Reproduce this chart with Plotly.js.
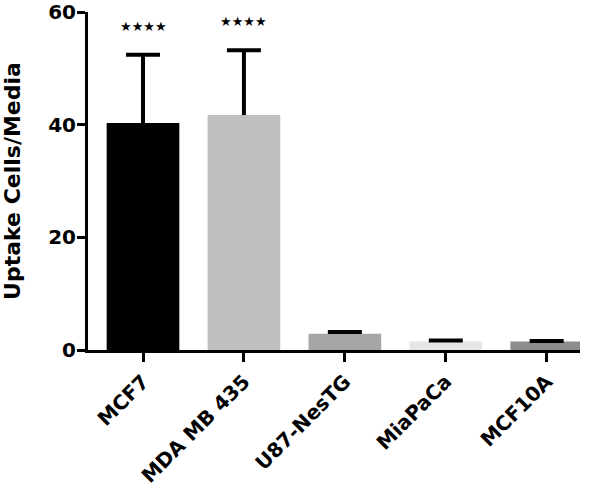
<!DOCTYPE html>
<html>
<head>
<meta charset="utf-8">
<script src="https://cdn.plot.ly/plotly-3.0.1.min.js"></script>
<style>html,body{margin:0;padding:0;background:#fff;}#chart{width:600px;height:488px;}</style>
</head>
<body>
<div id="chart"></div>
<script>
const categories = ["MCF7", "MDA MB 435", "U87-NesTG", "MiaPaCa", "MCF10A"];
const uptake = [40.3, 41.7, 2.9, 1.5, 1.5];
const errorUp = [12.1, 11.5, 0.3, 0.2, 0.1];
const barColors = ["#000000", "#bfbfbf", "#a6a6a6", "#e6e6e6", "#8c8c8c"];
const significance = ["★★★★", "★★★★", "", "", ""];
const yTicks = [0, 20, 40, 60];

const font = {family: "DejaVu Sans, Liberation Sans, Arial, sans-serif", color: "#000"};
const errTop = uptake.map((v, i) => v + errorUp[i]);

const bars = {
  type: "bar",
  x: categories,
  y: uptake,
  width: 0.72,
  marker: {color: barColors, line: {width: 0}},
  error_y: {type: "data", symmetric: false, array: errorUp, arrayminus: errorUp.map(() => 0),
            color: "#000", thickness: 4, width: 0, visible: true},
  hoverinfo: "none"
};

// caps at the top of each error bar
const caps = {
  type: "scatter",
  mode: "markers",
  x: categories,
  y: errTop,
  marker: {size: 1, opacity: 0},
  error_y: {type: "data", array: errTop.map(() => 0), color: "#000", thickness: 4, width: 17, visible: true},
  hoverinfo: "none"
};

const annotations = categories.map((c, i) => ({
  x: c, y: errTop[i] + 5.1, xref: "x", yref: "y", text: significance[i], showarrow: false,
  font: Object.assign({}, font, {size: 13})
})).filter(a => a.text);

const layout = {
  width: 600, height: 488,
  margin: {l: 88, r: 20, t: 12, b: 138},
  paper_bgcolor: "#fff", plot_bgcolor: "#fff",
  showlegend: false,
  xaxis: {
    type: "category", range: [-0.545, 4.33],
    showline: true, linecolor: "#000", linewidth: 3,
    ticks: "outside", ticklen: 9, tickwidth: 3, tickcolor: "#000",
    tickangle: -45, showgrid: false, zeroline: false,
    tickfont: Object.assign({}, font, {size: 20, weight: "bold"})
  },
  yaxis: {
    range: [0, 60], tickvals: yTicks, ticktext: yTicks.map(String),
    showline: true, linecolor: "#000", linewidth: 3,
    ticks: "outside", ticklen: 8, tickwidth: 3, tickcolor: "#000",
    ticklabelstandoff: -3,
    showgrid: false, zeroline: false,
    tickfont: Object.assign({}, font, {size: 20, weight: "bold"}),
    title: {text: "Uptake Cells/Media", standoff: 25, font: Object.assign({}, font, {size: 22, weight: "bold"})}
  },
  annotations: annotations
};

Plotly.newPlot("chart", [bars, caps], layout, {displayModeBar: false, staticPlot: true});
</script>
</body>
</html>
